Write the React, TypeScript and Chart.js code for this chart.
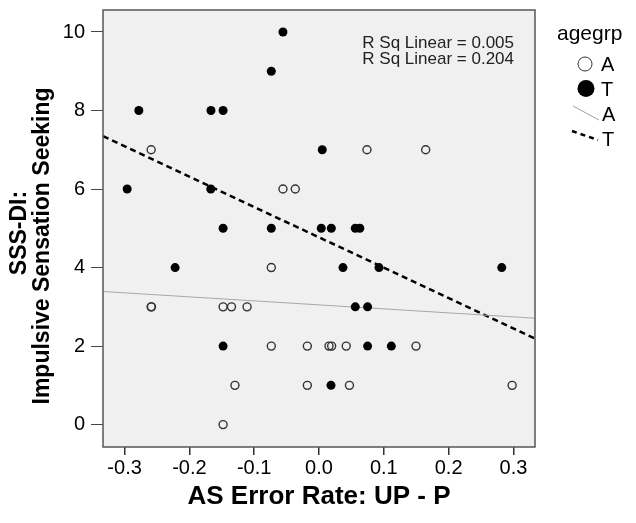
import React, { useEffect, useRef } from 'react';
import { Chart, registerables } from 'chart.js';

Chart.register(...registerables);

const groupNames = ['A', 'T'];
const aX = [-0.259, -0.0556, -0.0366, 0.074, 0.1646, -0.0736, -0.259, -0.2585, -0.148, -0.135, -0.111, -0.0736, -0.018, 0.0154, 0.0195, 0.042, 0.1497, -0.1297, -0.018, 0.047, 0.298, -0.148];
const aY = [7, 6, 6, 7, 7, 4, 3, 3, 3, 3, 3, 2, 2, 2, 2, 2, 2, 1, 1, 1, 1, 0];
const tX = [-0.0556, -0.0736, -0.278, -0.1667, -0.148, 0.005, -0.296, -0.167, -0.148, -0.0736, 0.0035, 0.019, 0.056, 0.063, 0.037, 0.0926, 0.282, -0.222, 0.056, 0.075, -0.148, 0.075, 0.1116, 0.0185];
const tY = [10, 9, 8, 8, 8, 7, 6, 6, 5, 5, 5, 5, 5, 5, 4, 4, 4, 4, 3, 3, 2, 2, 2, 1];
const fitIntercept = [3.05, 4.77];
const fitSlope = [-1.02, -7.73];
const rSquared = ['0.005', '0.204'];
const xRange = [-0.3333, 0.3333];
const yRange = [-0.57, 10.56];
const xTitle = 'AS Error Rate: UP - P';
const yTitle = ['SSS-DI:', 'Impulsive Sensation Seeking'];
const legendTitle = 'agegrp';

const FONT = '"Liberation Sans", Arial, sans-serif';

const decorPlugin = {
  id: 'decor',
  beforeDraw(chart: any) {
    const { ctx, chartArea: a } = chart;
    ctx.save();
    ctx.fillStyle = '#ffffff';
    ctx.fillRect(0, 0, chart.width, chart.height);
    ctx.fillStyle = '#f0f0f0';
    ctx.fillRect(a.left, a.top, a.right - a.left, a.bottom - a.top);
    ctx.restore();
  },
  afterDraw(chart: any) {
    const { ctx, chartArea: a } = chart;
    ctx.save();
    ctx.strokeStyle = '#555555';
    ctx.lineWidth = 1.5;
    ctx.strokeRect(a.left, a.top, a.right - a.left, a.bottom - a.top);
    // y axis title (two lines, rotated)
    ctx.fillStyle = '#000000';
    ctx.font = `bold 23px ${FONT}`;
    ctx.textAlign = 'center';
    ctx.textBaseline = 'middle';
    const titlePos = [[19.5, 233], [42.5, 246]];
    yTitle.forEach((line, i) => {
      ctx.save();
      ctx.translate(titlePos[i][0], titlePos[i][1]);
      ctx.rotate(-Math.PI / 2);
      ctx.fillText(line, 0, 0);
      ctx.restore();
    });
    // R squared
    ctx.fillStyle = '#222222';
    ctx.font = `17px ${FONT}`;
    ctx.textAlign = 'right';
    ctx.textBaseline = 'alphabetic';
    ctx.fillText(`R Sq Linear = ${rSquared[0]}`, a.right - 21, a.top + 37.5);
    ctx.fillText(`R Sq Linear = ${rSquared[1]}`, a.right - 21, a.top + 54);
    // legend
    ctx.textAlign = 'left';
    ctx.fillStyle = '#000000';
    ctx.font = `21px ${FONT}`;
    ctx.fillText(legendTitle, 557, 40);
    ctx.font = `20px ${FONT}`;
    ctx.beginPath();
    ctx.arc(585, 64, 7, 0, Math.PI * 2);
    ctx.fillStyle = '#ffffff';
    ctx.fill();
    ctx.strokeStyle = '#333333';
    ctx.lineWidth = 1;
    ctx.stroke();
    ctx.fillStyle = '#000000';
    ctx.fillText(groupNames[0], 601, 71);
    ctx.beginPath();
    ctx.arc(586, 88.5, 8.5, 0, Math.PI * 2);
    ctx.fill();
    ctx.fillText(groupNames[1], 601, 96);
    ctx.beginPath();
    ctx.moveTo(573, 106);
    ctx.lineTo(599, 120);
    ctx.strokeStyle = '#a0a0a0';
    ctx.lineWidth = 1;
    ctx.stroke();
    ctx.fillText(groupNames[0], 602, 121);
    ctx.beginPath();
    ctx.setLineDash([5, 4]);
    ctx.moveTo(572, 131);
    ctx.lineTo(598, 140);
    ctx.strokeStyle = '#000000';
    ctx.lineWidth = 2.5;
    ctx.stroke();
    ctx.setLineDash([]);
    ctx.fillText(groupNames[1], 602, 146);
    ctx.restore();
  },
};

export default function App() {
  const ref = useRef<HTMLCanvasElement | null>(null);
  useEffect(() => {
    document.body.style.margin = '0';
    const canvas = ref.current!;
    const fitLine = (i: number) =>
      xRange.map((x) => ({ x, y: fitIntercept[i] + fitSlope[i] * x }));
    const chart = new Chart(canvas, {
      type: 'scatter',
      data: {
        datasets: [
          {
            label: groupNames[0],
            data: aX.map((x, i) => ({ x, y: aY[i] })),
            pointRadius: 4,
            pointBorderWidth: 1.4,
            borderColor: '#333333',
            backgroundColor: 'rgba(0,0,0,0)',
            pointHoverRadius: 4,
          },
          {
            label: groupNames[1],
            data: tX.map((x, i) => ({ x, y: tY[i] })),
            pointRadius: 4.5,
            pointBorderWidth: 0,
            borderColor: '#000000',
            backgroundColor: '#000000',
            pointHoverRadius: 4.5,
          },
          {
            type: 'line',
            label: 'fitA',
            data: fitLine(0),
            borderColor: '#a8a8a8',
            borderWidth: 1,
            pointRadius: 0,
            showLine: true,
          },
          {
            type: 'line',
            label: 'fitT',
            data: fitLine(1),
            borderColor: '#000000',
            borderWidth: 2.5,
            borderDash: [6, 4],
            pointRadius: 0,
            showLine: true,
          },
        ] as any,
      },
      options: {
        responsive: false,
        animation: false,
        devicePixelRatio: 1,
        layout: { padding: { left: 0, top: 10, right: 101, bottom: 0 } },
        plugins: { legend: { display: false }, tooltip: { enabled: false } },
        scales: {
          x: {
            type: 'linear',
            min: xRange[0],
            max: xRange[1],
            afterFit: (s: any) => { s.height = 76; s.paddingLeft = 0; s.paddingRight = 0; },
            border: { display: false },
            grid: { drawOnChartArea: false, drawTicks: true, tickLength: 8, color: '#333333', lineWidth: 1.5 },
            ticks: {
              stepSize: 0.1,
              includeBounds: false,
              padding: 3,
              color: '#000000',
              font: { family: FONT, size: 20, lineHeight: 1 },
              callback: (v: any) => Number(v).toFixed(1),
            },
            title: {
              display: true,
              text: xTitle,
              color: '#000000',
              font: { family: FONT, size: 26, weight: 'bold', lineHeight: 1 },
              padding: { top: 0, bottom: 13 },
            },
          },
          y: {
            type: 'linear',
            min: yRange[0],
            max: yRange[1],
            afterFit: (s: any) => { s.width = 103; s.paddingTop = 0; s.paddingBottom = 0; },
            border: { display: false },
            grid: { drawOnChartArea: false, drawTicks: true, tickLength: 12, color: '#444444', lineWidth: 1 },
            ticks: {
              stepSize: 2,
              includeBounds: false,
              padding: 6,
              color: '#000000',
              font: { family: FONT, size: 20, lineHeight: 1 },
              callback: (v: any) => String(Math.round(Number(v))),
            },
            title: { display: false },
          },
        },
      } as any,
      plugins: [decorPlugin],
    });
    return () => chart.destroy();
  }, []);
  return <canvas ref={ref} width={636} height={523} style={{ display: 'block', width: 636, height: 523 }} />;
}
